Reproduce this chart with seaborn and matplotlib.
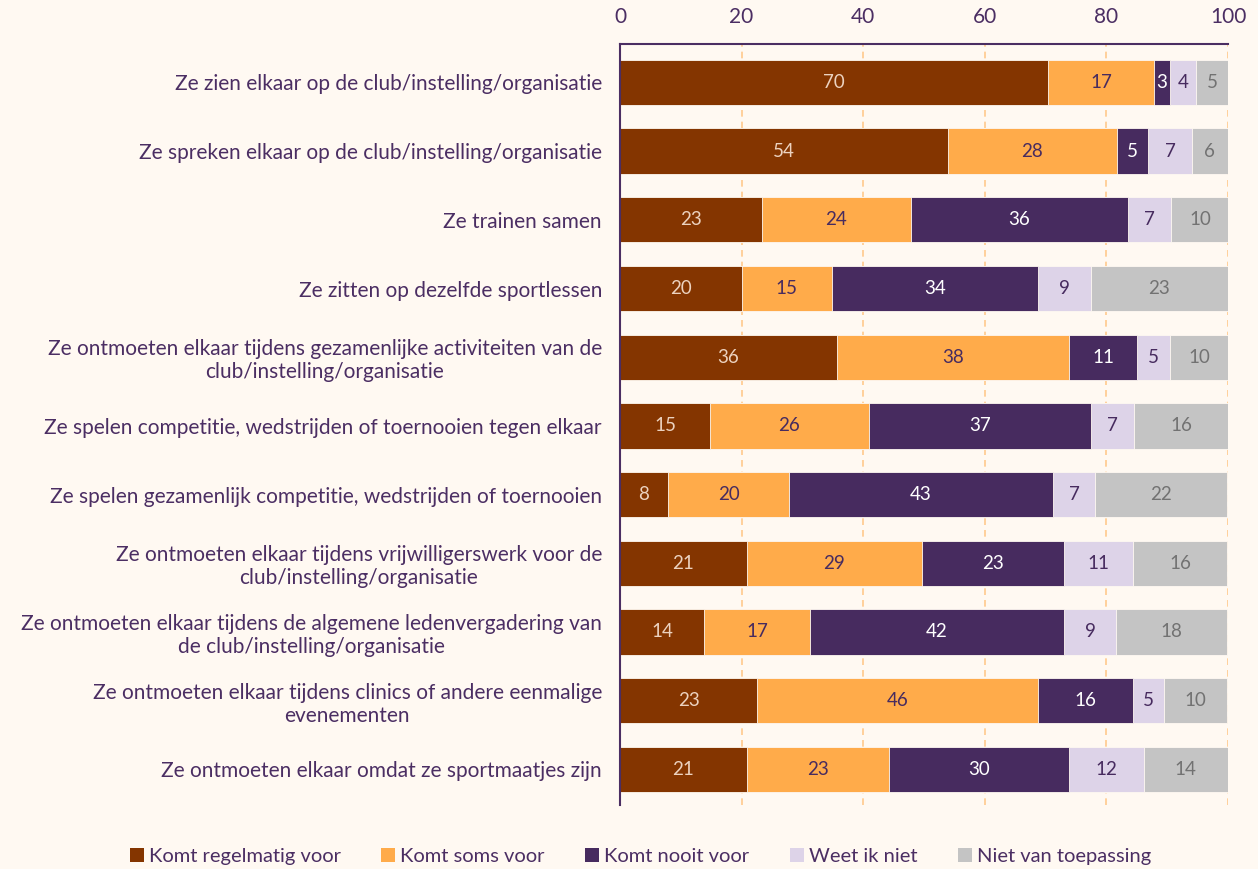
import matplotlib
matplotlib.use("Agg")
import matplotlib.pyplot as plt
import seaborn as sns
import pandas as pd
import numpy as np
from matplotlib.patches import Patch

# Data (percentages)
statements = [
    "Ze zien elkaar op de club/instelling/organisatie",
    "Ze spreken elkaar op de club/instelling/organisatie",
    "Ze trainen samen",
    "Ze zitten op dezelfde sportlessen",
    "Ze ontmoeten elkaar tijdens gezamenlijke activiteiten van de\nclub/instelling/organisatie",
    "Ze spelen competitie, wedstrijden of toernooien tegen elkaar",
    "Ze spelen gezamenlijk competitie, wedstrijden of toernooien",
    "Ze ontmoeten elkaar tijdens vrijwilligerswerk voor de\nclub/instelling/organisatie",
    "Ze ontmoeten elkaar tijdens de algemene ledenvergadering van\nde club/instelling/organisatie",
    "Ze ontmoeten elkaar tijdens clinics of andere eenmalige\nevenementen",
    "Ze ontmoeten elkaar omdat ze sportmaatjes zijn",
]
categories = ["Komt regelmatig voor", "Komt soms voor", "Komt nooit voor",
              "Weet ik niet", "Niet van toepassing"]

regelmatig = [70.4, 53.9, 23.4, 20.0, 35.7, 14.8, 7.9, 20.9, 13.9, 22.6, 20.9]
soms       = [17.4, 27.8, 24.4, 14.8, 38.2, 26.1, 19.9, 28.7, 17.4, 46.1, 23.4]
nooit      = [2.6, 5.2, 35.7, 33.9, 11.2, 36.6, 43.4, 23.4, 41.7, 15.6, 29.6]
weet_niet  = [4.4, 7.1, 7.1, 8.7, 5.4, 7.1, 7.0, 11.3, 8.6, 5.2, 12.2]
nvt        = [5.2, 6.0, 9.6, 22.6, 9.6, 15.6, 21.7, 15.6, 18.3, 10.4, 13.9]

colors = ["#843500", "#ffab4a", "#472b5f", "#ddd3e8", "#c4c4c4"]
label_colors = ["#ecd2bf", "#472b5f", "#ffffff", "#472b5f", "#727272"]
bg = "#fff9f2"
txt = "#4b2e63"

df = pd.DataFrame({"statement": statements, categories[0]: regelmatig,
                   categories[1]: soms, categories[2]: nooit,
                   categories[3]: weet_niet, categories[4]: nvt})
vals = df[categories].to_numpy()
cum = vals.cumsum(axis=1)

plt.rcParams['font.family'] = ['Lato', 'DejaVu Sans']
fig = plt.figure(figsize=(12.58, 8.69), dpi=100, facecolor=bg)
ax = fig.add_axes([0.4928, 0.0736, 0.4834, 0.8758])
ax.set_facecolor(bg)

# stacked bars: draw cumulative totals from the back
for k in range(len(categories) - 1, -1, -1):
    sns.barplot(x=cum[:, k], y=df["statement"], orient="h", color=colors[k],
                width=0.66, edgecolor=bg, linewidth=0.6, ax=ax, saturation=1)

# value labels
for k in range(len(categories)):
    for i in range(len(statements)):
        v = vals[i, k]
        ax.text(cum[i, k] - v / 2, i, f"{v:.0f}", ha="center", va="center",
                fontsize=13.5, color=label_colors[k])

ax.set_xlim(0, 100)
ax.set_ylim(10.52, -0.56)
ax.set_xticks([0, 20, 40, 60, 80, 100])
ax.xaxis.tick_top()
ax.tick_params(axis="x", length=0, labelsize=15, labelcolor=txt, pad=12)
ax.tick_params(axis="y", length=0, labelsize=15, labelcolor=txt, pad=13)
for lab in ax.get_yticklabels():
    lab.set_multialignment("center")
ax.set_xlabel("")
ax.set_ylabel("")
ax.xaxis.grid(True, linestyle=(0, (4, 3)), color="#ffc98c", linewidth=1.2)
ax.yaxis.grid(False)
ax.set_axisbelow(True)
for s in ["right", "bottom"]:
    ax.spines[s].set_visible(False)
for s in ["top", "left"]:
    ax.spines[s].set_color(txt)
    ax.spines[s].set_linewidth(1.5)

handles = [Patch(facecolor=c, edgecolor="none") for c in colors]
fig.legend(handles, categories, loc="lower center", bbox_to_anchor=(0.509, -0.016),
           ncol=5, frameon=False, fontsize=14.5, labelcolor=txt,
           handlelength=0.7, handleheight=0.7, handletextpad=0.25, columnspacing=2.0)

fig.savefig("out.png", dpi=100, facecolor=bg)
